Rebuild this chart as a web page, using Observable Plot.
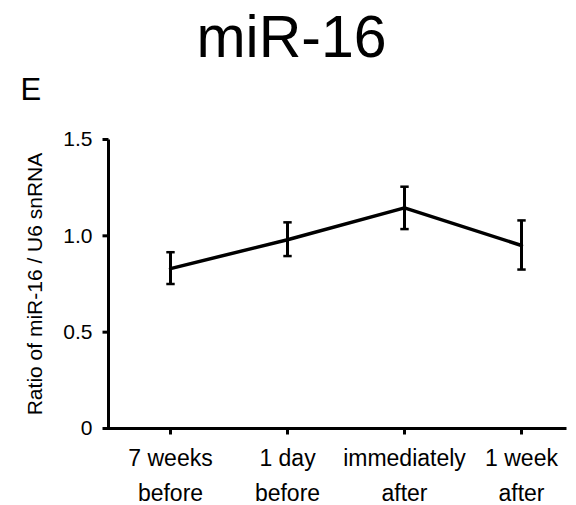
<!DOCTYPE html>
<html>
<head>
<meta charset="utf-8">
<script src="https://cdn.jsdelivr.net/npm/d3@7"></script>
<script src="https://cdn.jsdelivr.net/npm/@observablehq/plot@0.6"></script>
<style>
  html, body { margin: 0; padding: 0; background: #fff; }
</style>
</head>
<body>
<div id="chart"></div>
<script>
const titleText = "miR-16";
const panelLetter = "E";
const yLabel = "Ratio of miR-16 / U6 snRNA";
const categories = ["7 weeks\nbefore", "1 day\nbefore", "immediately\nafter", "1 week\nafter"];
const means = [0.83, 0.98, 1.145, 0.95];
const errLow = [0.75, 0.895, 1.035, 0.825];
const errHigh = [0.915, 1.07, 1.255, 1.08];
const yTicks = [0, 0.5, 1.0, 1.5];
const yTickLabels = ["0", "0.5", "1.0", "1.5"];

const data = categories.map((c, i) => ({cat: c, mean: means[i], lo: errLow[i], hi: errHigh[i]}));
const yTickData = yTicks.map((v, i) => ({v, label: yTickLabels[i]}));

const W = 576, H = 505, mL = 108, mR = 10, mT = 139, mB = 77;
const fw = W - mL - mR, fh = H - mT - mB;

// symbol: horizontal segment centered (error-bar caps)
const capSymbol = {
  draw(context, size) {
    const r = Math.sqrt(size / Math.PI);
    context.moveTo(-r, 0);
    context.lineTo(r, 0);
  }
};
// symbol: tick pointing left (y-axis ticks)
const yTickSymbol = {
  draw(context, size) {
    const r = Math.sqrt(size / Math.PI);
    context.moveTo(-r, 0);
    context.lineTo(0, 0);
  }
};
// symbol: tick pointing down (x-axis ticks)
const xTickSymbol = {
  draw(context, size) {
    const r = Math.sqrt(size / Math.PI);
    context.moveTo(0, 0);
    context.lineTo(0, r);
  }
};

const font = "'Liberation Sans', Arial, Helvetica, sans-serif";

const chart = Plot.plot({
  width: W,
  height: H,
  marginLeft: mL,
  marginRight: mR,
  marginTop: mT,
  marginBottom: mB,
  style: {fontFamily: font, fontSize: "21px", color: "#000", background: "#fff"},
  x: {type: "point", domain: categories, range: [169, 522], padding: 0, axis: null},
  y: {domain: [0, 1.5], axis: null},
  marks: [
    // left and bottom axis lines (frame drawn only on its bottom and left sides)
    Plot.frame({stroke: "#000", strokeWidth: 3, fill: "none", strokeDasharray: `0 ${fw + fh} ${fw + fh}`}),
    // y ticks + labels
    Plot.dot(yTickData, {y: "v", frameAnchor: "left", symbol: yTickSymbol, r: 6, stroke: "#000", strokeWidth: 3, fill: "none"}),
    Plot.text(yTickData, {y: "v", text: "label", frameAnchor: "left", textAnchor: "end", lineAnchor: "middle", dx: -16, fontSize: 21, fill: "#000"}),
    // x ticks + labels
    Plot.dot(categories, {x: d => d, frameAnchor: "bottom", symbol: xTickSymbol, r: 6, stroke: "#000", strokeWidth: 3, fill: "none"}),
    Plot.text(categories, {x: d => d, frameAnchor: "bottom", lineAnchor: "top", dy: 13.5, fontSize: 23, lineHeight: 1.5, fill: "#000"}),
    // data
    Plot.line(data, {x: "cat", y: "mean", stroke: "#000", strokeWidth: 3.5}),
    Plot.ruleX(data, {x: "cat", y1: "lo", y2: "hi", stroke: "#000", strokeWidth: 3}),
    Plot.dot(data, {x: "cat", y: "lo", symbol: capSymbol, r: 4.2, stroke: "#000", fill: "none", strokeWidth: 2.5}),
    Plot.dot(data, {x: "cat", y: "hi", symbol: capSymbol, r: 4.2, stroke: "#000", fill: "none", strokeWidth: 2.5}),
    // labels
    Plot.text([yLabel], {frameAnchor: "left", rotate: -90, dx: -73, fontSize: 21, fill: "#000", textAnchor: "middle"}),
    Plot.text([titleText], {frameAnchor: "top-left", lineAnchor: "top", dx: 183, dy: -124, fontSize: 59, textAnchor: "middle", fill: "#000"}),
    Plot.text([panelLetter], {frameAnchor: "top-left", lineAnchor: "top", dx: -88, dy: -62, fontSize: 31, textAnchor: "start", fill: "#000"})
  ]
});

document.getElementById("chart").appendChild(chart);
</script>
</body>
</html>
